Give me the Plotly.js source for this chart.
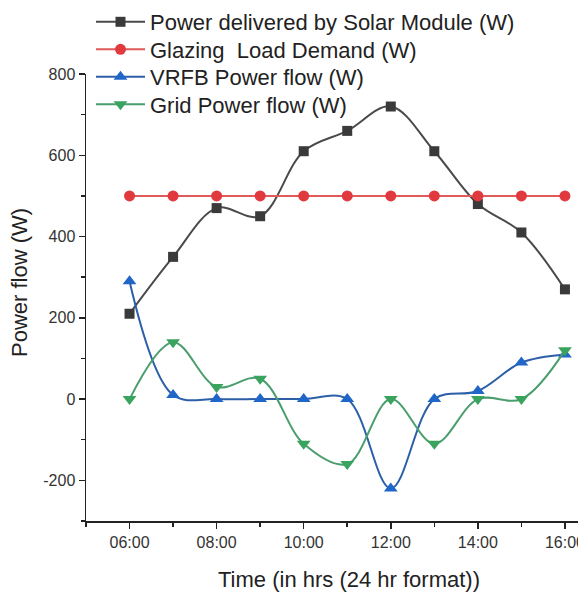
<!DOCTYPE html>
<html>
<head>
<meta charset="utf-8">
<script src="https://cdn.plot.ly/plotly-3.0.1.min.js"></script>
<style>html,body{margin:0;padding:0;background:#fff;}#chart{width:578px;height:593px;}</style>
</head>
<body>
<div id="chart"></div>
<script>
const hours = [6, 7, 8, 9, 10, 11, 12, 13, 14, 15, 16];
const tickHours = [6, 8, 10, 12, 14, 16];
const tickLabels = ["06:00", "08:00", "10:00", "12:00", "14:00", "16:00"];
const yTickVals = [-200, 0, 200, 400, 600, 800];
const yTickLabels = ["-200", "0", "200", "400", "600", "800"];
const solarPower = [210, 350, 470, 450, 610, 660, 720, 610, 480, 410, 270];
const loadDemand = [500, 500, 500, 500, 500, 500, 500, 500, 500, 500, 500];
const vrfbFlow = [290, 10, 0, 0, 0, 0, -220, 0, 20, 90, 110];
const gridFlow = [0, 140, 30, 50, -110, -160, 0, -110, 0, 0, 120];

const font = "Liberation Sans, Arial, sans-serif";
function tr(name, y, lineColor, markerColor, symbol, size, legendId) {
  return {
    x: hours, y: y, name: name, type: "scatter", mode: "lines+markers",
    legend: legendId,
    line: {color: lineColor, width: 2, shape: "spline", smoothing: 1},
    marker: {color: markerColor, symbol: symbol, size: size}
  };
}
const data = [
  tr("Power delivered by Solar Module (W)", solarPower, "#4a4a4a", "#3a3a3a", "square", 10, "legend"),
  tr("Glazing  Load Demand (W)", loadDemand, "#e05a5a", "#e03a3e", "circle", 11, "legend2"),
  tr("VRFB Power flow (W)", vrfbFlow, "#2c5fa8", "#1f66c8", "triangle-up", 12, "legend3"),
  tr("Grid Power flow (W)", gridFlow, "#4a9e6e", "#3aa35e", "triangle-down", 12, "legend4")
];
function leg(rowCenterPx) {
  return {x: (91 - 86) / 492, y: (521 - rowCenterPx) / 447, xanchor: "left", yanchor: "middle",
    bgcolor: "rgba(0,0,0,0)", font: {family: font, size: 22, color: "#222"}, itemwidth: 49};
}
const layout = {
  width: 578, height: 593,
  margin: {l: 86, r: 0, t: 74, b: 72},
  paper_bgcolor: "#fff", plot_bgcolor: "#fff",
  font: {family: font, color: "#222", size: 16},
  showlegend: true,
  legend: leg(22), legend2: leg(49.5), legend3: leg(77), legend4: leg(104.5),
  xaxis: {
    range: [5, 16.3], showgrid: false, zeroline: false,
    showline: true, linecolor: "#222", linewidth: 1.5,
    tickmode: "array", tickvals: tickHours, ticktext: tickLabels,
    ticks: "outside", ticklen: 6, tickwidth: 1.5, tickcolor: "#222",
    ticklabeloverflow: "allow",
    tickfont: {size: 16, family: font, color: "#333"},
    minor: {dtick: 1, tick0: 5, ticks: "outside", ticklen: 4, tickwidth: 1.5, tickcolor: "#222", showgrid: false}
  },
  yaxis: {
    range: [-300, 800], showgrid: false, zeroline: false,
    showline: true, linecolor: "#222", linewidth: 1.5,
    tickmode: "array", tickvals: yTickVals, ticktext: yTickLabels,
    ticks: "outside", ticklen: 6, tickwidth: 1.5, tickcolor: "#222",
    tickfont: {size: 16, family: font, color: "#333"},
    minor: {dtick: 100, tick0: 0, ticks: "outside", ticklen: 4, tickwidth: 1.5, tickcolor: "#222", showgrid: false}
  },
  annotations: [
    {text: "Time (in hrs (24 hr format))", xref: "paper", yref: "paper",
     x: (349 - 86) / 492, y: -(579 - 521) / 447, xanchor: "center", yanchor: "middle",
     showarrow: false, font: {size: 22, family: font, color: "#222"}},
    {text: "Power flow (W)", xref: "paper", yref: "paper", textangle: -90,
     x: (19 - 86) / 492, y: (521 - 283) / 447, xanchor: "center", yanchor: "middle",
     showarrow: false, font: {size: 22, family: font, color: "#222"}}
  ]
};
Plotly.newPlot("chart", data, layout, {displayModeBar: false, staticPlot: true});
</script>
</body>
</html>
